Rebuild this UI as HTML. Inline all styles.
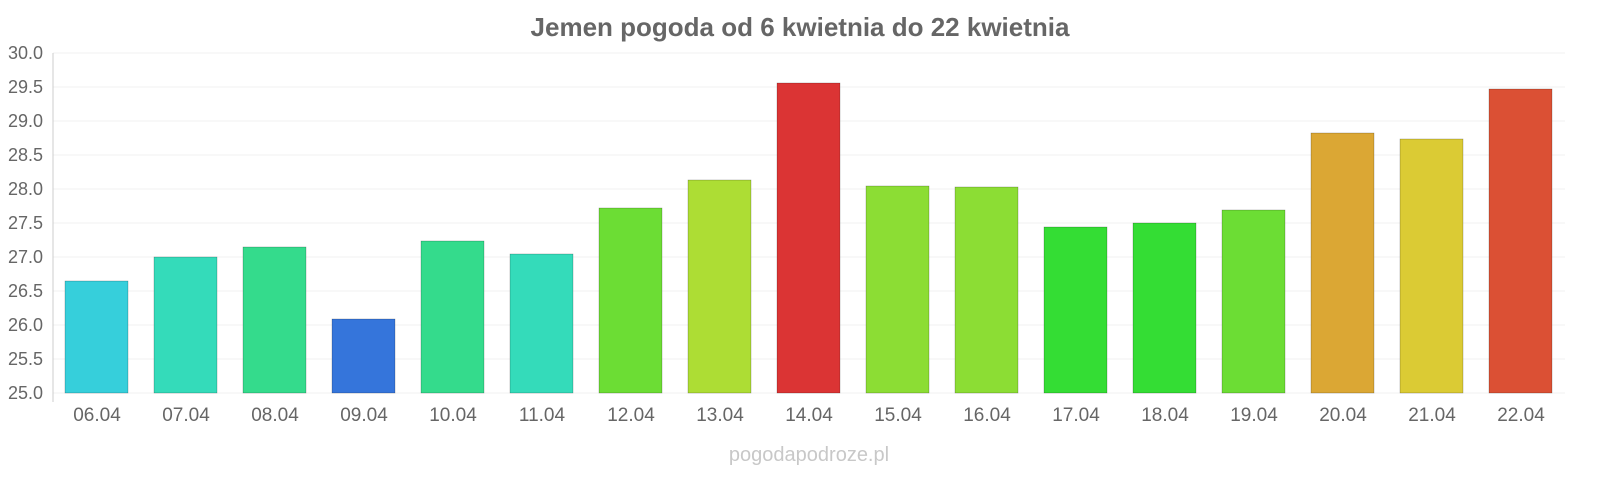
<!DOCTYPE html>
<html><head><meta charset="utf-8"><style>body{margin:0;background:#fff}svg{display:block;font-family:"Liberation Sans",sans-serif}</style></head><body>
<svg width="1600" height="480" viewBox="0 0 1600 480">
<text x="800" y="36" text-anchor="middle" font-size="26" font-weight="bold" fill="#666">Jemen pogoda od 6 kwietnia do 22 kwietnia</text>
<g stroke="#f2f2f2" stroke-width="1">
<line x1="53" x2="1565" y1="53" y2="53"/><line x1="53" x2="1565" y1="87" y2="87"/><line x1="53" x2="1565" y1="121" y2="121"/><line x1="53" x2="1565" y1="155" y2="155"/><line x1="53" x2="1565" y1="189" y2="189"/><line x1="53" x2="1565" y1="223" y2="223"/><line x1="53" x2="1565" y1="257" y2="257"/><line x1="53" x2="1565" y1="291" y2="291"/><line x1="53" x2="1565" y1="325" y2="325"/><line x1="53" x2="1565" y1="359" y2="359"/><line x1="53" x2="1565" y1="393" y2="393"/>
</g>
<line x1="53" x2="53" y1="53" y2="402" stroke="#ccc"/>
<g font-size="18" fill="#666" text-anchor="end">
<text x="43" y="59">30.0</text><text x="43" y="93">29.5</text><text x="43" y="127">29.0</text><text x="43" y="161">28.5</text><text x="43" y="195">28.0</text><text x="43" y="229">27.5</text><text x="43" y="263">27.0</text><text x="43" y="297">26.5</text><text x="43" y="331">26.0</text><text x="43" y="365">25.5</text><text x="43" y="399">25.0</text>
</g>
<g stroke-opacity="0.4" stroke="#000" stroke-width="0.5">
<rect x="65" y="281" width="63" height="112" fill="#36cfdb"/>
<rect x="154" y="257" width="63" height="136" fill="#34dbba"/>
<rect x="243" y="247" width="63" height="146" fill="#34db8c"/>
<rect x="332" y="319" width="63" height="74" fill="#3575db"/>
<rect x="421" y="241" width="63" height="152" fill="#34db8c"/>
<rect x="510" y="254" width="63" height="139" fill="#34dbba"/>
<rect x="599" y="208" width="63" height="185" fill="#6cdd34"/>
<rect x="688" y="180" width="63" height="213" fill="#addd34"/>
<rect x="777" y="83" width="63" height="310" fill="#db3434"/>
<rect x="866" y="186" width="63" height="207" fill="#8cdd34"/>
<rect x="955" y="187" width="63" height="206" fill="#8cdd34"/>
<rect x="1044" y="227" width="63" height="166" fill="#34dd34"/>
<rect x="1133" y="223" width="63" height="170" fill="#34dd34"/>
<rect x="1222" y="210" width="63" height="183" fill="#6cdd34"/>
<rect x="1311" y="133" width="63" height="260" fill="#dba734"/>
<rect x="1400" y="139" width="63" height="254" fill="#dbcb34"/>
<rect x="1489" y="89" width="63" height="304" fill="#db5034"/>
</g>
<g font-size="19" fill="#666" text-anchor="middle">
<text x="97" y="421">06.04</text><text x="186" y="421">07.04</text><text x="275" y="421">08.04</text><text x="364" y="421">09.04</text><text x="453" y="421">10.04</text><text x="542" y="421">11.04</text><text x="631" y="421">12.04</text><text x="720" y="421">13.04</text><text x="809" y="421">14.04</text><text x="898" y="421">15.04</text><text x="987" y="421">16.04</text><text x="1076" y="421">17.04</text><text x="1165" y="421">18.04</text><text x="1254" y="421">19.04</text><text x="1343" y="421">20.04</text><text x="1432" y="421">21.04</text><text x="1521" y="421">22.04</text>
</g>
<text x="809" y="461" text-anchor="middle" font-size="20" fill="#c8c8c8">pogodapodroze.pl</text>
</svg>
</body></html>
